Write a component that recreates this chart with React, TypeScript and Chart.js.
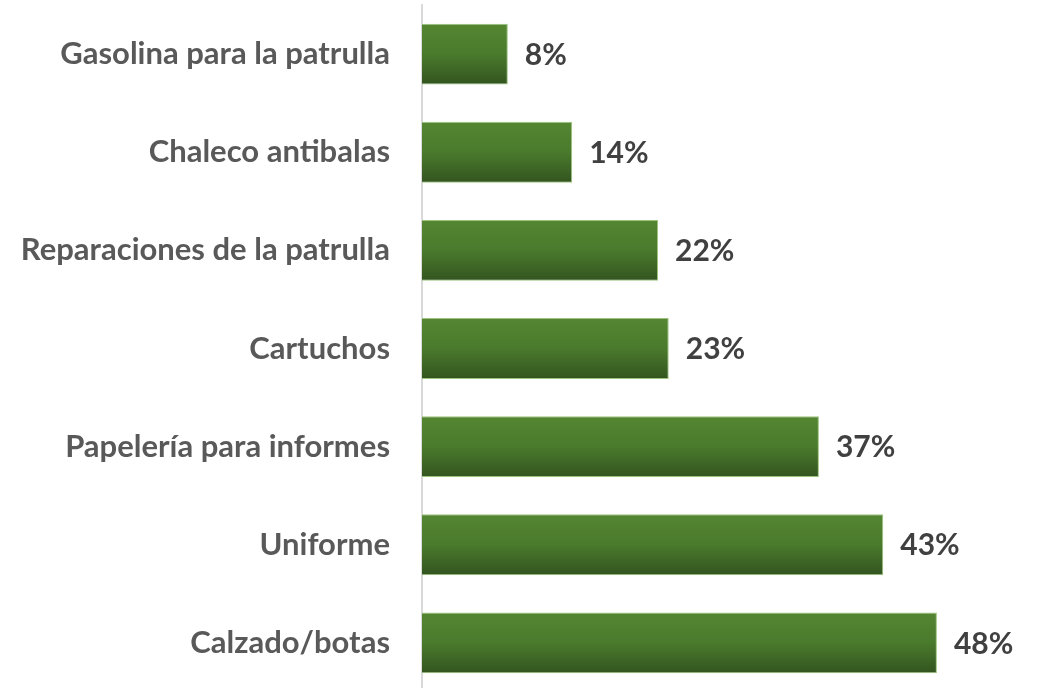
import React, { useEffect, useRef } from "react";
import { Chart, registerables } from "chart.js";

Chart.register(...registerables);

const categories = [
  "Gasolina para la patrulla",
  "Chaleco antibalas",
  "Reparaciones de la patrulla",
  "Cartuchos",
  "Papelería para informes",
  "Uniforme",
  "Calzado/botas",
];
const values = [8, 14, 22, 23, 37, 43, 48];

const FONT = "Lato, 'Open Sans', sans-serif";

const dataLabelPlugin = {
  id: "dataLabels",
  afterDatasetsDraw(chart: any) {
    const ctx = chart.ctx;
    const meta = chart.getDatasetMeta(0);
    ctx.save();
    ctx.font = `bold 30px ${FONT}`;
    ctx.fillStyle = "#404040";
    ctx.textAlign = "left";
    ctx.textBaseline = "middle";
    meta.data.forEach((bar: any, i: number) => {
      ctx.fillText(`${values[i]}%`, bar.x + 17, bar.y + 1);
    });
    ctx.restore();
  },
};

export default function App() {
  const ref = useRef<HTMLCanvasElement | null>(null);
  useEffect(() => {
    if (!ref.current) return;
    const chart = new Chart(ref.current, {
      type: "bar",
      data: {
        labels: categories,
        datasets: [
          {
            data: values,
            backgroundColor: (c: any) => {
              const ch = c.chart;
              const ys = ch.scales && ch.scales.y;
              if (!ys || !ch.chartArea || c.dataIndex === undefined) return "#4a7a2c";
              const cy = ys.getPixelForValue(c.dataIndex);
              const g = ch.ctx.createLinearGradient(0, cy - 30, 0, cy + 30);
              g.addColorStop(0, "#548632");
              g.addColorStop(0.5, "#4a7a2c");
              g.addColorStop(1, "#335520");
              return g;
            },
            borderColor: "#9cc47e",
            borderWidth: 1,
            categoryPercentage: 0.62,
            barPercentage: 1,
          },
        ],
      },
      options: {
        indexAxis: "y",
        animation: false,
        responsive: false,
        layout: { padding: { top: 5, bottom: 8, left: 0, right: 28 } },
        plugins: { legend: { display: false }, tooltip: { enabled: false } },
        scales: {
          x: {
            min: 0,
            max: 55,
            display: false,
          },
          y: {
            afterFit: (s: any) => {
              s.width = 422;
              s.paddingTop = 0;
              s.paddingBottom = 0;
            },
            grid: { display: true, drawOnChartArea: false, drawTicks: false },
            border: { display: true, color: "#d9d9d9", width: 2 },
            ticks: {
              padding: 32,
              color: "#595959",
              font: { family: FONT, size: 31, weight: "bold" },
            },
          },
        },
      },
      plugins: [dataLabelPlugin],
    });
    return () => chart.destroy();
  }, []);
  return (
    <div style={{ position: "absolute", left: 0, top: 0, width: 1040, height: 688, overflow: "hidden", background: "#fff" }}>
      <canvas ref={ref} width={1040} height={700} style={{ display: "block" }} />
    </div>
  );
}
